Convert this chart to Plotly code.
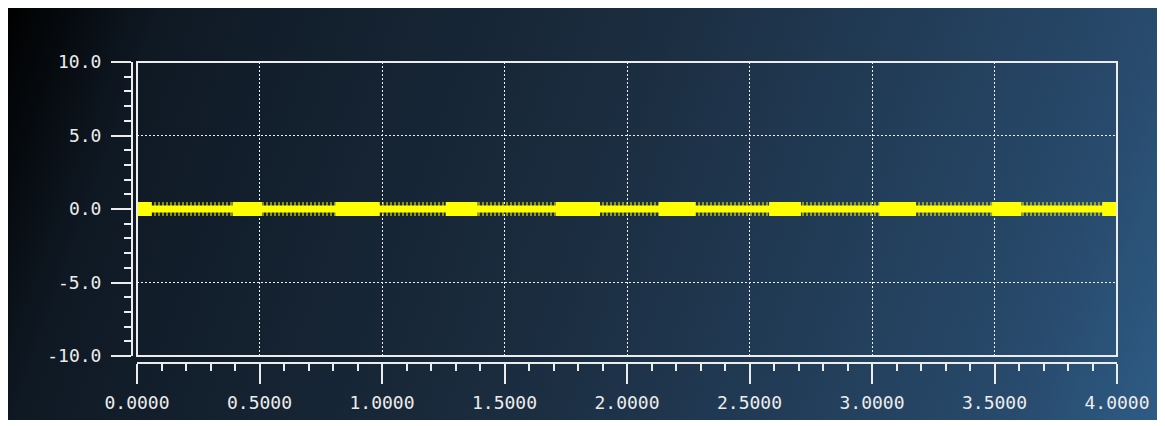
import base64
import plotly.graph_objects as go

# ---- data ----
x_range = [0.0, 4.0]
y_range = [-10.0, 10.0]
x_major_ticks = [0.0, 0.5, 1.0, 1.5, 2.0, 2.5, 3.0, 3.5, 4.0]
x_tick_labels = ["0.0000", "0.5000", "1.0000", "1.5000", "2.0000",
                 "2.5000", "3.0000", "3.5000", "4.0000"]
y_major_ticks = [-10.0, -5.0, 0.0, 5.0, 10.0]
y_tick_labels = ["-10.0", "-5.0", "0.0", "5.0", "10.0"]

# signal: a dense oscillation around 0 (drawn as its envelope)
band_x = [0.0, 4.0]
band_upper = [0.48, 0.48]      # outer envelope of the oscillation
band_lower = [-0.48, -0.48]
core_upper = [0.24, 0.24]      # always-covered core
core_lower = [-0.24, -0.24]
# stretches where the oscillation renders as a solid band
solid_start = [0.00, 0.39, 0.81, 1.26, 1.71, 2.13, 2.58, 3.03, 3.49, 3.94]
solid_end = [0.06, 0.51, 0.99, 1.39, 1.89, 2.28, 2.71, 3.18, 3.61, 4.00]

# ---- layout geometry (page pixels; the page body has an 8px margin) ----
W, H = 1154, 412
OFF = 8
ML, MR, MT, MB = 100, 40, 40, 50
PW, PH = W - ML - MR, H - MT - MB


def px_x(p):
    return (p - OFF - ML) / PW


def px_y(p):
    return (H - MB - (p - OFF)) / PH


x_dom = [px_x(137), px_x(1117)]
y_dom = [px_y(356), px_y(62)]

YELLOW = "#ffff00"
FG = "#ececec"

fig = go.Figure()

# hatched outer envelope
fig.add_trace(go.Scatter(x=band_x, y=band_lower, mode="lines", line=dict(width=0),
                         showlegend=False, hoverinfo="skip"))
fig.add_trace(go.Scatter(x=band_x, y=band_upper, mode="lines", line=dict(width=0),
                         fill="tonexty", fillcolor="rgba(0,0,0,0)",
                         fillpattern=dict(shape="|", fgcolor=YELLOW, bgcolor="rgba(0,0,0,0)",
                                          size=4, solidity=0.5),
                         showlegend=False, hoverinfo="skip"))
# solid core
fig.add_trace(go.Scatter(x=band_x, y=core_lower, mode="lines", line=dict(width=0),
                         showlegend=False, hoverinfo="skip"))
fig.add_trace(go.Scatter(x=band_x, y=core_upper, mode="lines", line=dict(width=0),
                         fill="tonexty", fillcolor=YELLOW,
                         showlegend=False, hoverinfo="skip"))
# solid stretches
px_, py_ = [], []
for s, e in zip(solid_start, solid_end):
    px_ += [s, e, e, s, s, None]
    py_ += [band_lower[0], band_lower[0], band_upper[0], band_upper[0], band_lower[0], None]
fig.add_trace(go.Scatter(x=px_, y=py_, mode="lines", fill="toself", fillcolor=YELLOW,
                         line=dict(width=0), showlegend=False, hoverinfo="skip"))

# dummy trace for the detached tick axes
fig.add_trace(go.Scatter(x=band_x, y=core_upper, xaxis="x2", yaxis="y2", mode="lines",
                         opacity=0, showlegend=False, hoverinfo="skip"))

grid = dict(showgrid=True, gridcolor="#f0f0f0", gridwidth=1, griddash="2px,2px",
            zeroline=False, showline=False, ticks="", showticklabels=False,
            automargin=False)

tickfont = dict(family="DejaVu Sans Mono", size=18, color=FG)

# background gradient as an svg image
svg = f'''<svg xmlns="http://www.w3.org/2000/svg" width="{W}" height="{H}">
<defs><linearGradient id="g" gradientUnits="userSpaceOnUse" x1="0" y1="0" x2="{W}" y2="{H}">
<stop offset="0" stop-color="#000000"/>
<stop offset="0.12" stop-color="#0f1924"/>
<stop offset="0.5" stop-color="#1b2d40"/>
<stop offset="0.88" stop-color="#284a6c"/>
<stop offset="1" stop-color="#2e5c86"/>
</linearGradient></defs>
<rect width="{W}" height="{H}" fill="url(#g)"/></svg>'''
src = "data:image/svg+xml;base64," + base64.b64encode(svg.encode()).decode()

fig.update_layout(
    width=W, height=H,
    margin=dict(l=ML, r=MR, t=MT, b=MB, autoexpand=False),
    paper_bgcolor="white",
    plot_bgcolor="rgba(0,0,0,0)",
    xaxis=dict(domain=x_dom, range=x_range, tickvals=x_major_ticks[1:-1], **grid),
    yaxis=dict(domain=y_dom, range=y_range, tickvals=y_major_ticks[1:-1], **grid),
    xaxis2=dict(overlaying="x", anchor="free", position=px_y(363), range=x_range,
                domain=x_dom, automargin=False,
                tickvals=x_major_ticks, ticktext=x_tick_labels, ticks="outside",
                ticklen=20, tickwidth=2, tickcolor=FG, showline=True, linecolor=FG,
                linewidth=2, showgrid=False, zeroline=False, tickfont=tickfont,
                ticklabelstandoff=3,
                minor=dict(dtick=0.1, ticks="outside", ticklen=7, tickwidth=2,
                           tickcolor=FG, showgrid=False)),
    yaxis2=dict(overlaying="y", anchor="free", position=px_x(132), range=y_range,
                domain=y_dom, automargin=False,
                tickvals=y_major_ticks, ticktext=y_tick_labels, ticks="outside",
                ticklen=20, tickwidth=2, tickcolor=FG, showline=True, linecolor=FG,
                linewidth=2, showgrid=False, zeroline=False, tickfont=tickfont,
                ticklabelstandoff=6,
                minor=dict(dtick=1, ticks="outside", ticklen=7, tickwidth=2,
                           tickcolor=FG, showgrid=False)),
    images=[dict(source=src, xref="paper", yref="paper", x=px_x(OFF), y=px_y(OFF),
                 sizex=W / PW, sizey=H / PH, sizing="stretch",
                 xanchor="left", yanchor="top", layer="below")],
    shapes=[dict(type="rect", xref="paper", yref="paper", x0=x_dom[0], x1=x_dom[1],
                 y0=y_dom[0], y1=y_dom[1], line=dict(color=FG, width=2), layer="above")],
)

fig.write_html("out.html")
